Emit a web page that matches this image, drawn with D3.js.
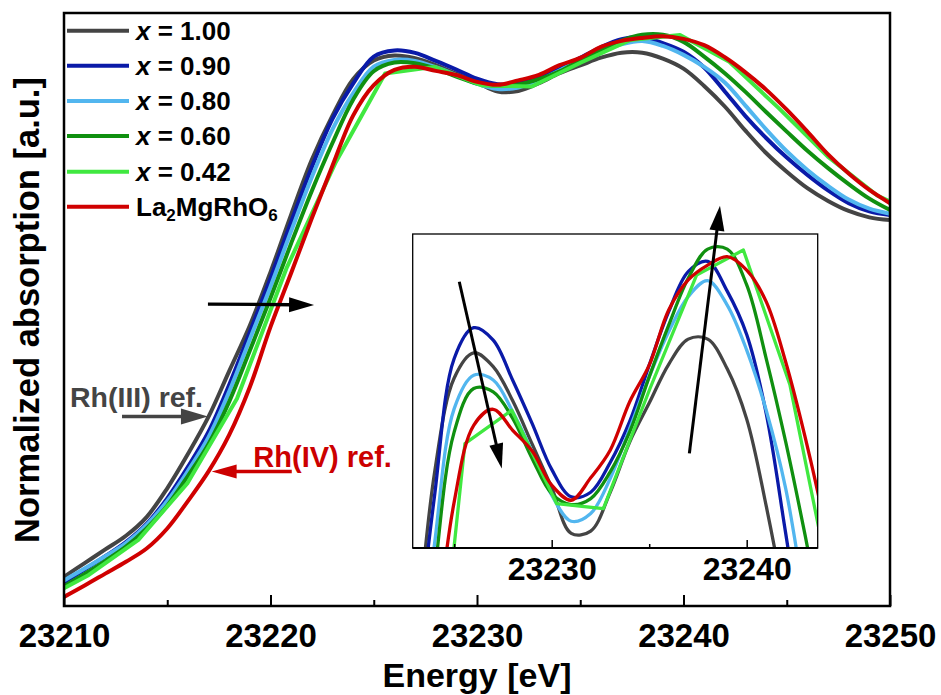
<!DOCTYPE html>
<html><head><meta charset="utf-8">
<script src="https://cdn.jsdelivr.net/npm/d3@7"></script>
<style>
body{margin:0;background:#fff}
svg{display:block}
text{font-family:"Liberation Sans",Arial,sans-serif;font-weight:bold;fill:#000}
</style>
</head><body>
<svg id="c" width="941" height="695"></svg>
<script>
// ---------------- data ----------------
const energy = [23210,23211,23212,23213,23214,23215,23216,23217,23218,23219,23220,23221,23222,23223,23224,23225,23226,23227,23228,23229,23230,23231,23232,23233,23234,23235,23236,23237,23238,23239,23240,23241,23242,23243,23244,23245,23246,23247,23248,23249,23250];
const x100 = [0.064,0.094,0.124,0.154,0.195,0.258,0.333,0.415,0.515,0.615,0.732,0.858,0.978,1.075,1.155,1.196,1.207,1.201,1.186,1.167,1.148,1.128,1.129,1.146,1.168,1.185,1.202,1.213,1.213,1.200,1.178,1.140,1.095,1.042,0.993,0.952,0.916,0.888,0.866,0.852,0.846];
const x090 = [0.052,0.080,0.109,0.140,0.180,0.236,0.305,0.382,0.485,0.600,0.718,0.842,0.962,1.068,1.145,1.2045,1.218,1.2126,1.195,1.176,1.156,1.144,1.146,1.159,1.177,1.2016,1.225,1.2425,1.247,1.234,1.215,1.1805,1.128,1.074,1.026,0.983,0.945,0.911,0.883,0.865,0.857];
const x080 = [0.056,0.082,0.109,0.138,0.178,0.230,0.296,0.370,0.470,0.585,0.700,0.822,0.940,1.045,1.124,1.1826,1.1972,1.1951,1.1812,1.1637,1.1447,1.1333,1.1367,1.152,1.1739,1.1965,1.2162,1.2316,1.2386,1.2279,1.2082,1.1819,1.1476,1.097,1.045,0.997,0.956,0.921,0.891,0.871,0.860];
const x060 = [0.043,0.070,0.099,0.130,0.170,0.220,0.285,0.355,0.448,0.560,0.675,0.795,0.910,1.015,1.110,1.1724,1.1914,1.1899,1.1783,1.1607,1.1454,1.1406,1.1432,1.1549,1.1724,1.1965,1.2191,1.2396,1.2524,1.2524,1.2367,1.2045,1.168,1.127,1.083,1.040,0.998,0.960,0.925,0.893,0.868];
const la2mgrho6 = [0.020,0.045,0.071,0.097,0.126,0.170,0.230,0.295,0.375,0.480,0.612,0.730,0.850,0.965,1.075,1.1418,1.1753,1.1823,1.1731,1.164,1.1491,1.1425,1.1523,1.1644,1.1856,1.2016,1.2257,1.2389,1.2454,1.2491,1.2432,1.2294,1.203,1.170,1.132,1.088,1.040,0.990,0.948,0.912,0.883];
const energyX042 = [23208.8,23211.2,23213.6,23215.99,23218.38,23220.77,23223.16,23225.55,23227.95,23230.26,23232.65,23235.04,23237.43,23239.83,23242.22,23244.6,23246.99,23249.38,23251.77];
const x042 = [0.010,0.068,0.145,0.270,0.455,0.740,0.973,1.1673,1.1819,1.141,1.1388,1.1914,1.241,1.252,1.1929,1.092,0.985,0.900,0.850];

const seriesNames = ["x = 1.00","x = 0.90","x = 0.80","x = 0.60","x = 0.42","La2MgRhO6"];
const seriesColors = ["#444444","#0a1aa8","#52b6ef","#109010","#40e840","#d00000"];
const mainTicks = [23210,23220,23230,23240,23250];
const mainMinor = [23215,23225,23235,23245];
const insetTicks = [23230,23240];
const insetMinor = [23225,23235];

// ---------------- layout ----------------
const svg = d3.select("#c");
const M = {l:64, r:890, t:13, b:606};
const I = {l:412.7, r:817.7, t:234, b:548};
const x = d3.scaleLinear().domain([23210,23250]).range([M.l,M.r]);
const y = d3.scaleLinear().domain([0,1.3]).range([M.b,M.t]);
const xi = d3.scaleLinear().domain([23230,23240]).range([551.7,746.7]);
const yi = d3.scaleLinear().domain([1.1216,1.259]).range([I.b,I.t]);

const series = [
  {name:seriesNames[0], e:energy, v:x100, c:seriesColors[0], smooth:true},
  {name:seriesNames[1], e:energy, v:x090, c:seriesColors[1], smooth:true},
  {name:seriesNames[2], e:energy, v:x080, c:seriesColors[2], smooth:true},
  {name:seriesNames[3], e:energy, v:x060, c:seriesColors[3], smooth:true},
  {name:seriesNames[4], e:energyX042, v:x042, c:seriesColors[4], smooth:false},
  {name:seriesNames[5], e:energy, v:la2mgrho6, c:seriesColors[5], smooth:true}
];

const defs = svg.append("defs");
defs.append("clipPath").attr("id","cm").append("rect")
  .attr("x",M.l).attr("y",M.t).attr("width",M.r-M.l).attr("height",M.b-M.t);
defs.append("clipPath").attr("id","ci").append("rect")
  .attr("x",I.l).attr("y",I.t).attr("width",I.r-I.l).attr("height",I.b-I.t);

// main curves
const gm = svg.append("g").attr("clip-path","url(#cm)");
series.forEach(s=>{
  const line = d3.line().x((d,i)=>x(s.e[i])).y(d=>y(d))
    .curve(s.smooth ? d3.curveCatmullRom.alpha(0.5) : d3.curveLinear);
  gm.append("path").attr("d",line(s.v)).attr("fill","none")
    .attr("stroke",s.c).attr("stroke-width",4).attr("stroke-linejoin","round");
});

// main frame + axis
svg.append("rect").attr("x",M.l).attr("y",M.t).attr("width",M.r-M.l).attr("height",M.b-M.t)
  .attr("fill","none").attr("stroke","#000").attr("stroke-width",2.5);
const ax = svg.append("g").attr("transform",`translate(0,${M.b})`)
  .call(d3.axisBottom(x).tickValues(mainTicks).tickSize(-11).tickFormat(d3.format("d")));
ax.select(".domain").remove();
ax.selectAll(".tick line").attr("stroke","#000").attr("stroke-width",2);
ax.selectAll(".tick text").attr("y",41).attr("dy",0).style("font-size","33px")
  .style("font-family","'Liberation Sans',Arial,sans-serif").style("font-weight","bold").attr("fill","#000");
const axm = svg.append("g").attr("transform",`translate(0,${M.b})`)
  .call(d3.axisBottom(x).tickValues(mainMinor).tickSize(-6).tickFormat(""));
axm.select(".domain").remove();
axm.selectAll(".tick line").attr("stroke","#000").attr("stroke-width",2);

// axis titles
svg.append("text").attr("x",477).attr("y",687).attr("text-anchor","middle")
  .style("font-size","34px").text("Energy [eV]");
svg.append("text").attr("transform","translate(38.5,310) rotate(-90)").attr("text-anchor","middle")
  .style("font-size","34.5px").text("Normalized absorption [a.u.]");

// legend
const legRows = [30.7,65.7,101,136,171.7,206.7];
series.forEach((s,i)=>{
  const ry = legRows[i];
  svg.append("line").attr("x1",67).attr("x2",129).attr("y1",ry).attr("y2",ry)
    .attr("stroke",s.c).attr("stroke-width",4);
  const t = svg.append("text").attr("x",136).attr("y",ry+9).style("font-size","26px");
  if (i<5){
    t.append("tspan").style("font-style","italic").text("x");
    t.append("tspan").text(" = " + s.name.split("= ")[1]);
  } else {
    t.append("tspan").text("La");
    t.append("tspan").attr("dy",5).style("font-size","17px").text("2");
    t.append("tspan").attr("dy",-5).text("MgRhO");
    t.append("tspan").attr("dy",5).style("font-size","17px").text("6");
  }
});

// arrows helper
function arrow(g, x1,y1,x2,y2, color, w, hl, hw){
  const dx=x2-x1, dy=y2-y1, L=Math.hypot(dx,dy), ux=dx/L, uy=dy/L;
  const bx=x2-ux*hl, by=y2-uy*hl;
  g.append("line").attr("x1",x1).attr("y1",y1).attr("x2",bx+ux*2).attr("y2",by+uy*2)
    .attr("stroke",color).attr("stroke-width",w);
  g.append("path").attr("d",`M${x2},${y2}L${bx-uy*hw},${by+ux*hw}L${bx+uy*hw},${by-ux*hw}Z`)
    .attr("fill",color);
}

// annotations (data coordinates)
arrow(svg, x(23216.97), y(0.662), x(23222.11), y(0.660), "#000", 3.3, 25, 7.5);
svg.append("text").attr("x",x(23210.29)).attr("y",y(0.4356)).style("font-size","28.5px")
  .style("fill","#444444").text("Rh(III) ref.");
arrow(svg, x(23212.81), y(0.4154), x(23216.97), y(0.4154), "#444444", 3.5, 27, 8);
svg.append("text").attr("x",x(23219.17)).attr("y",y(0.3054)).style("font-size","29px")
  .style("fill","#cc0000").text("Rh(IV) ref.");
arrow(svg, x(23221.03), y(0.2949), x(23217.15), y(0.2949), "#cc0000", 3.3, 25, 7);

// inset
svg.append("rect").attr("x",I.l).attr("y",I.t).attr("width",I.r-I.l).attr("height",I.b-I.t)
  .attr("fill","#fff");
const gi = svg.append("g").attr("clip-path","url(#ci)");
series.forEach(s=>{
  const line = d3.line().x((d,i)=>xi(s.e[i])).y(d=>yi(d))
    .curve(s.smooth ? d3.curveCatmullRom.alpha(0.5) : d3.curveLinear);
  gi.append("path").attr("d",line(s.v)).attr("fill","none")
    .attr("stroke",s.c).attr("stroke-width",3.3).attr("stroke-linejoin","round");
});
svg.append("rect").attr("x",I.l).attr("y",I.t).attr("width",I.r-I.l).attr("height",I.b-I.t)
  .attr("fill","none").attr("stroke","#000").attr("stroke-width",1.3);
svg.append("line").attr("x1",I.l).attr("x2",I.r).attr("y1",I.b).attr("y2",I.b)
  .attr("stroke","#000").attr("stroke-width",2);
const ai = svg.append("g").attr("transform",`translate(0,${I.b})`)
  .call(d3.axisBottom(xi).tickValues(insetTicks).tickSize(-8).tickFormat(d3.format("d")));
ai.select(".domain").remove();
ai.selectAll(".tick line").attr("stroke","#000").attr("stroke-width",1.5);
ai.selectAll(".tick text").attr("y",32).attr("dy",0).style("font-size","32px")
  .style("font-family","'Liberation Sans',Arial,sans-serif").style("font-weight","bold").attr("fill","#000");
const aim = svg.append("g").attr("transform",`translate(0,${I.b})`)
  .call(d3.axisBottom(xi).tickValues(insetMinor).tickSize(-4).tickFormat(""));
aim.select(".domain").remove();
aim.selectAll(".tick line").attr("stroke","#000").attr("stroke-width",1.5);

arrow(svg, xi(23225.26), yi(1.2381), xi(23227.44), yi(1.1564), "#000", 3, 25, 7);
arrow(svg, xi(23237.06), yi(1.163), xi(23238.63), yi(1.2714), "#000", 3, 25, 7.5);
</script>
</body></html>
